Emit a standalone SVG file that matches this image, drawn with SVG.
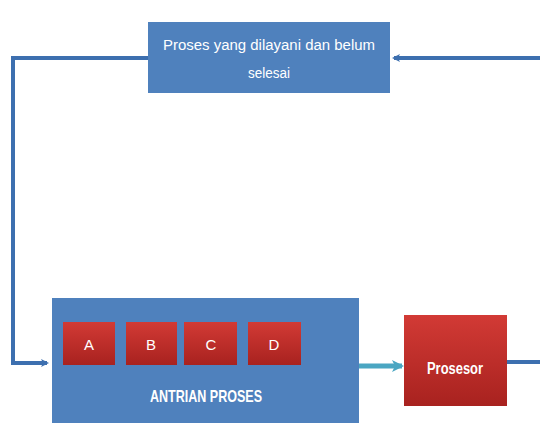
<svg xmlns="http://www.w3.org/2000/svg" width="540" height="423" viewBox="0 0 540 423">
<defs>
<linearGradient id="red" x1="0" y1="0" x2="0" y2="1">
<stop offset="0" stop-color="#d23a35"/>
<stop offset="1" stop-color="#a8221f"/>
</linearGradient>
<marker id="ah" markerWidth="8" markerHeight="8" refX="6" refY="4" orient="auto" markerUnits="userSpaceOnUse">
<path d="M0,0 L8,4 L0,8 L2,4 Z" fill="#3d6faf"/>
</marker>
<marker id="ah2" markerWidth="12" markerHeight="12" refX="10" refY="6" orient="auto" markerUnits="userSpaceOnUse">
<path d="M0,0 L12,6 L0,12 L3,6 Z" fill="#4aa6c2"/>
</marker>
<style>
.blue{fill:#4f81bd;}
.red{fill:url(#red);}
.conn{stroke:#3d6faf;stroke-width:4;fill:none;}
.t{font-family:"Liberation Sans",Arial,sans-serif;fill:#ffffff;text-anchor:middle;}
</style>
</defs>
<g id="connectors">
<polyline class="conn" points="148,58 13,58 13,363 47,363" marker-end="url(#ah)"/>
<polyline class="conn" points="507,362 540,362"/>
<polyline class="conn" points="540,58 394,58" marker-end="url(#ah)"/>
<line x1="359" y1="366" x2="402" y2="366" stroke="#4aa6c2" stroke-width="5" marker-end="url(#ah2)"/>
</g>
<g id="top">
<rect class="blue" x="148" y="22" width="242" height="71"/>
<text class="t" x="269" y="50" font-size="14" textLength="212" lengthAdjust="spacingAndGlyphs">Proses yang dilayani dan belum</text>
<text class="t" x="269" y="78" font-size="14" textLength="42" lengthAdjust="spacingAndGlyphs">selesai</text>
</g>
<g id="queue">
<rect class="blue" x="52" y="298" width="307" height="130"/>
<text class="t" x="206" y="402" font-size="17" font-weight="bold" textLength="112" lengthAdjust="spacingAndGlyphs">ANTRIAN PROSES</text>
</g>
<g id="A"><rect class="red" x="63" y="322" width="52" height="43"/><text class="t" x="89" y="350" font-size="15">A</text></g>
<g id="B"><rect class="red" x="126" y="322" width="51" height="43"/><text class="t" x="151" y="350" font-size="15">B</text></g>
<g id="C"><rect class="red" x="184" y="322" width="53" height="43"/><text class="t" x="211" y="350" font-size="15">C</text></g>
<g id="D"><rect class="red" x="248" y="322" width="53" height="43"/><text class="t" x="274" y="350" font-size="15">D</text></g>
<g id="prosesor">
<rect class="red" x="404" y="315" width="103" height="91"/>
<text class="t" x="455" y="374" font-size="16" font-weight="bold" textLength="56" lengthAdjust="spacingAndGlyphs">Prosesor</text>
</g>
</svg>
